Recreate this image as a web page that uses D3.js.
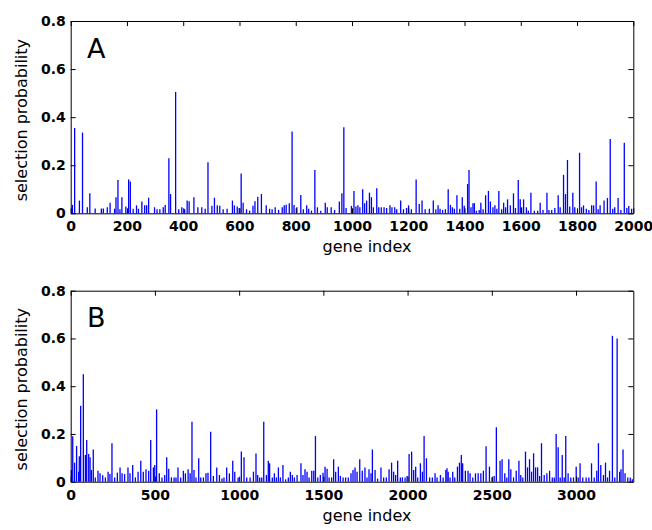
<!DOCTYPE html>
<html>
<head>
<meta charset="utf-8">
<script src="https://cdn.jsdelivr.net/npm/d3@7"></script>
<style>
  body { margin: 0; background: #fff; }
  svg { display: block; }
  .tick text { font-family: "DejaVu Sans", sans-serif; font-weight: bold; font-size: 14px; fill: #000; }
  .tick line, .domain { stroke: #000; }
</style>
</head>
<body>
<div id="chart"></div>
<script>
// panel A: gene index / selection probability
const genesA = [6,14,31,42,59,68,87,109,116,130,140,156,161,168,175,182,196,206,212,222,234,241,253,263,270,277,298,307,317,329,336,349,355,373,384,395,405,414,421,438,452,466,478,488,502,511,521,530,542,556,575,582,592,599,606,613,625,636,648,655,665,678,695,707,716,727,739,752,759,766,777,787,794,804,818,827,839,846,856,868,877,889,905,912,926,938,955,964,971,979,998,1007,1014,1021,1028,1038,1045,1052,1062,1069,1076,1088,1095,1104,1114,1123,1135,1142,1152,1159,1173,1183,1194,1201,1211,1228,1239,1249,1260,1275,1289,1298,1306,1313,1322,1332,1342,1350,1357,1364,1373,1383,1392,1399,1411,1416,1423,1430,1435,1442,1452,1458,1466,1475,1485,1492,1501,1508,1515,1522,1532,1539,1546,1553,1563,1574,1581,1591,1598,1603,1610,1620,1627,1636,1648,1660,1669,1679,1693,1700,1710,1721,1733,1740,1752,1759,1766,1774,1785,1792,1809,1816,1823,1833,1842,1852,1859,1868,1875,1882,1896,1908,1918,1927,1934,1946,1956,1968,1977,1984,1994];
const probA = [0.035,0.355,0.053,0.336,0.025,0.083,0.020,0.020,0.020,0.025,0.044,0.019,0.067,0.139,0.017,0.067,0.028,0.141,0.132,0.019,0.033,0.019,0.049,0.033,0.033,0.065,0.025,0.017,0.017,0.025,0.035,0.229,0.080,0.505,0.017,0.025,0.017,0.053,0.050,0.067,0.025,0.025,0.019,0.212,0.031,0.065,0.033,0.031,0.017,0.019,0.053,0.033,0.028,0.022,0.166,0.044,0.017,0.011,0.031,0.050,0.069,0.080,0.033,0.019,0.017,0.025,0.014,0.025,0.033,0.036,0.042,0.340,0.035,0.025,0.076,0.017,0.033,0.019,0.011,0.180,0.025,0.011,0.044,0.025,0.025,0.014,0.049,0.083,0.358,0.022,0.031,0.093,0.028,0.033,0.025,0.100,0.042,0.053,0.086,0.067,0.025,0.104,0.025,0.025,0.025,0.022,0.033,0.025,0.025,0.017,0.053,0.017,0.022,0.033,0.017,0.141,0.039,0.053,0.017,0.019,0.053,0.017,0.033,0.019,0.014,0.017,0.100,0.035,0.025,0.019,0.075,0.019,0.067,0.031,0.122,0.180,0.025,0.042,0.042,0.011,0.014,0.044,0.017,0.075,0.093,0.049,0.025,0.033,0.019,0.093,0.017,0.044,0.025,0.058,0.033,0.083,0.022,0.139,0.058,0.025,0.058,0.025,0.011,0.086,0.011,0.011,0.044,0.014,0.086,0.014,0.014,0.022,0.075,0.025,0.160,0.080,0.222,0.028,0.086,0.025,0.252,0.025,0.033,0.019,0.014,0.033,0.033,0.132,0.017,0.033,0.053,0.064,0.309,0.019,0.025,0.064,0.014,0.294,0.022,0.030,0.019];

// panel B
const genesB = [4,12,23,35,47,51,59,75,87,95,107,115,123,134,146,162,174,190,206,222,233,245,261,277,293,305,320,340,352,368,384,400,416,431,447,463,475,491,499,510,526,542,558,570,582,598,614,625,637,653,669,681,697,709,720,732,744,760,772,788,803,815,831,847,867,883,898,910,926,942,962,974,994,1013,1029,1045,1065,1085,1100,1110,1122,1134,1146,1162,1173,1181,1197,1209,1221,1233,1245,1260,1276,1292,1304,1316,1328,1344,1367,1379,1391,1403,1415,1431,1443,1453,1467,1482,1498,1510,1522,1534,1549,1561,1573,1589,1601,1617,1632,1648,1664,1676,1688,1700,1716,1731,1747,1759,1771,1783,1791,1807,1822,1842,1858,1874,1890,1905,1917,1929,1941,1957,1969,1985,1997,2009,2024,2036,2048,2060,2076,2088,2098,2112,2131,2147,2163,2175,2195,2211,2227,2234,2241,2252,2268,2280,2296,2308,2319,2327,2343,2359,2371,2387,2403,2419,2435,2450,2466,2486,2502,2514,2527,2549,2561,2577,2589,2601,2613,2629,2645,2661,2672,2684,2700,2712,2724,2736,2748,2760,2772,2784,2795,2811,2827,2843,2859,2871,2882,2894,2906,2918,2930,2939,2953,2969,2985,3001,3013,3024,3040,3060,3076,3092,3108,3123,3133,3147,3163,3175,3187,3199,3216,3230,3244,3259,3267,3279,3291,3307,3322,3334];
const probB = [0.049,0.190,0.080,0.150,0.042,0.107,0.318,0.450,0.112,0.175,0.116,0.102,0.049,0.135,0.018,0.046,0.035,0.027,0.018,0.042,0.032,0.161,0.018,0.038,0.060,0.035,0.032,0.060,0.035,0.070,0.018,0.042,0.088,0.042,0.052,0.046,0.175,0.060,0.070,0.303,0.035,0.018,0.028,0.102,0.054,0.018,0.018,0.018,0.060,0.018,0.046,0.035,0.052,0.035,0.251,0.049,0.018,0.098,0.018,0.018,0.035,0.038,0.209,0.024,0.060,0.028,0.013,0.018,0.060,0.035,0.088,0.042,0.018,0.126,0.102,0.018,0.018,0.042,0.118,0.028,0.018,0.018,0.251,0.028,0.088,0.077,0.018,0.035,0.018,0.060,0.018,0.070,0.010,0.018,0.042,0.028,0.018,0.028,0.077,0.028,0.052,0.042,0.018,0.046,0.046,0.191,0.018,0.028,0.038,0.063,0.054,0.018,0.018,0.094,0.042,0.063,0.024,0.018,0.018,0.018,0.035,0.049,0.060,0.042,0.094,0.046,0.060,0.018,0.052,0.035,0.135,0.049,0.013,0.060,0.018,0.018,0.052,0.080,0.042,0.028,0.088,0.018,0.018,0.018,0.024,0.116,0.126,0.049,0.063,0.018,0.077,0.042,0.191,0.098,0.018,0.018,0.035,0.018,0.028,0.018,0.049,0.056,0.042,0.018,0.042,0.018,0.063,0.080,0.112,0.077,0.046,0.046,0.035,0.018,0.035,0.035,0.035,0.046,0.149,0.063,0.018,0.024,0.228,0.088,0.094,0.035,0.018,0.094,0.052,0.018,0.046,0.088,0.028,0.018,0.126,0.060,0.094,0.042,0.119,0.060,0.060,0.024,0.161,0.028,0.035,0.046,0.018,0.018,0.200,0.144,0.018,0.112,0.018,0.191,0.035,0.018,0.018,0.063,0.018,0.077,0.018,0.018,0.018,0.077,0.018,0.046,0.161,0.070,0.028,0.080,0.018,0.046,0.611,0.018,0.600,0.042,0.052,0.135,0.035,0.018,0.018,0.010];

const yTicks = [0, 0.2, 0.4, 0.6, 0.8];
const xTicksA = [0, 200, 400, 600, 800, 1000, 1200, 1400, 1600, 1800, 2000];
const xTicksB = [0, 500, 1000, 1500, 2000, 2500, 3000];

let width = 652, height = 530;

const svg = d3.select("#chart")
  .append("svg")
  .attr("width", width)
  .attr("height", height);

svg.append("rect").attr("width", width).attr("height", height).attr("fill", "#fff");

function drawPanel(p) {
  const x = d3.scaleLinear().domain(p.xDomain).range([70.7, 633.3]);
  const y = d3.scaleLinear().domain([0, 0.8]).range([p.bottom, p.top]);
  const data = p.genes.map((g, i) => ({ gene: g, prob: p.probs[i] }));

  const g = svg.append("g");

  // stems
  g.append("g")
    .attr("stroke", "#0000ff")
    .attr("stroke-width", 1.3)
    .selectAll("line")
    .data(data)
    .join("line")
    .attr("x1", d => x(d.gene))
    .attr("x2", d => x(d.gene))
    .attr("y1", y(0))
    .attr("y2", d => y(d.prob));

  const yFmt = d => d === 0 ? "0" : d3.format(".1f")(d);

  g.append("g")
    .attr("transform", `translate(0,${p.bottom})`)
    .call(d3.axisBottom(x).tickValues(p.xTicks).tickSizeInner(-5).tickSizeOuter(0).tickPadding(8).tickFormat(d3.format("d")));
  g.append("g")
    .attr("transform", `translate(0,${p.top})`)
    .call(d3.axisTop(x).tickValues(p.xTicks).tickSizeInner(-5).tickSizeOuter(0).tickFormat(""));
  g.append("g")
    .attr("transform", `translate(70.7,0)`)
    .call(d3.axisLeft(y).tickValues(yTicks).tickSizeInner(-5).tickSizeOuter(0).tickPadding(5).tickFormat(yFmt));
  g.append("g")
    .attr("transform", `translate(633.3,0)`)
    .call(d3.axisRight(y).tickValues(yTicks).tickSizeInner(-5).tickSizeOuter(0).tickFormat(""));

  g.append("text")
    .attr("x", 87)
    .attr("y", p.top + 36.5)
    .attr("font-family", "DejaVu Sans, sans-serif")
    .attr("font-size", 27)
    .text(p.letter);

  g.append("text")
    .attr("x", 367)
    .attr("y", p.bottom + 39)
    .attr("text-anchor", "middle")
    .attr("font-family", "DejaVu Sans, sans-serif")
    .attr("font-size", 16)
    .text("gene index");

  g.append("text")
    .attr("transform", `translate(27,${(p.top + p.bottom) / 2 + 3}) rotate(-90)`)
    .attr("text-anchor", "middle")
    .attr("font-family", "DejaVu Sans, sans-serif")
    .attr("font-size", 16)
    .text("selection probability");
}

drawPanel({ letter: "A", genes: genesA, probs: probA, xDomain: [0, 2000], xTicks: xTicksA, top: 21, bottom: 213.3 });
drawPanel({ letter: "B", genes: genesB, probs: probB, xDomain: [0, 3340], xTicks: xTicksB, top: 290.7, bottom: 481.7 });
</script>
</body>
</html>
